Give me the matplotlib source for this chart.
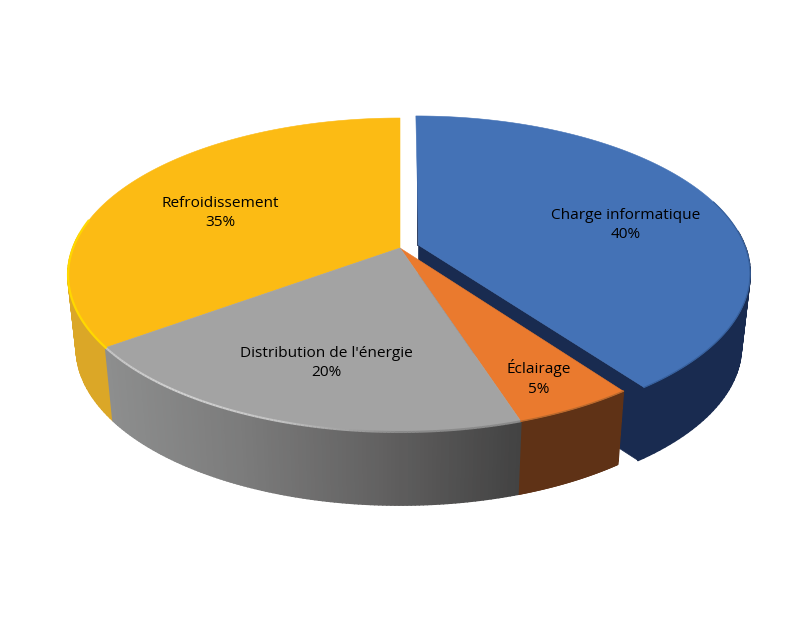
import numpy as np
import matplotlib
matplotlib.use('Agg')
import matplotlib.pyplot as plt
from matplotlib.collections import LineCollection, PolyCollection
from matplotlib.colors import LinearSegmentedColormap
from matplotlib.patches import Polygon

# Data
labels = ['Charge informatique', 'Éclairage', "Distribution de l'énergie", 'Refroidissement']
shares = [40, 5, 20, 35]
explode = [0.06, 0, 0, 0]
top_colors = ['#4472b6', '#ea7a2e', '#a3a3a3', '#fcbb14']
side_colors = ['#192b50', '#5f3216', '#6a6a6a', '#dba727']
label_xy = [(626, 225), (539, 378), (326, 363), (220, 213)]
# part of each outer arc whose wall can be seen (indices along the arc)
wall_range = [(70, 120), (0, 120), (0, 120), (0, 40)]

plt.rcParams['font.family'] = ['Open Sans', 'DejaVu Sans']

# Perspective of the pie disc, in pixels
cx, cy = 400, 248
radius = 327
tilt_y = 109.7
persp = 0.172
depth = 73
shrink = 0.975


def project(px, py):
    w = 1 + persp * py
    return cx + radius * px / w, (cy - tilt_y * py) / w


def lower(x, y):
    return cx + shrink * (x - cx), y + depth


fig = plt.figure(figsize=(8, 6.18), dpi=100)
ax = fig.add_axes([0, 0, 1, 1])

fracs = np.cumsum([0] + shares) / sum(shares) * 2 * np.pi
wedges = []
for i in range(len(shares)):
    th = np.linspace(fracs[i], fracs[i + 1], 120)
    mid = (fracs[i] + fracs[i + 1]) / 2
    dx, dy = explode[i] * np.sin(mid), explode[i] * np.cos(mid)
    ax_x, ax_y = project(dx, dy)
    arc_x, arc_y = project(np.sin(th) + dx, np.cos(th) + dy)
    wedges.append((ax_x, ax_y, arc_x, arc_y))

grey_cmap = LinearSegmentedColormap.from_list('side', ['#434343', '#626161', '#7b7b7b', '#8d8e8e'])
rim_cmap = LinearSegmentedColormap.from_list('rim', ['#8a8a8a', '#8a8a8a', '#c4c4c4', '#d2d2d2', '#c4c4c4'])

# Draw back to front: blue, then yellow, orange, grey
for i in [0, 3, 1, 2]:
    ax_x, ax_y, arc_x, arc_y = wedges[i]
    low_x, low_y = lower(arc_x, arc_y)

    if i == 0:
        # cut face of the pulled out slice
        a2x, a2y = lower(ax_x, ax_y)
        face = [(ax_x, ax_y), (arc_x[-1], arc_y[-1]), (low_x[-1], low_y[-1]), (a2x, a2y)]
        ax.add_patch(Polygon(face, fc=side_colors[i], ec=side_colors[i], lw=0.5))

    # side wall as small quads so the silhouette stays tangent
    k0, k1 = wall_range[i]
    quads = [[(arc_x[k], arc_y[k]), (arc_x[k + 1], arc_y[k + 1]),
              (low_x[k + 1], low_y[k + 1]), (low_x[k], low_y[k])] for k in range(k0, k1 - 1)]
    if i == 2:
        t = (arc_x[:-1] - arc_x.max()) / (arc_x.min() - arc_x.max())
        cols = grey_cmap(t)
    else:
        cols = side_colors[i]
    ax.add_collection(PolyCollection(quads, facecolors=cols, edgecolors=cols, linewidths=1.3, zorder=1))

    top = np.column_stack([np.r_[ax_x, arc_x], np.r_[ax_y, arc_y]])
    ax.add_patch(Polygon(top, fc=top_colors[i], ec=top_colors[i], lw=0.4, zorder=2))

# Thin dark sliver on the left edge of the blue slice
bx, by, bax, bay = wedges[0][0], wedges[0][1], wedges[0][2][0], wedges[0][3][0]
ax.plot([bx - 0.7, bx - 0.3 * (bx - bax)], [by, by - 0.7 * (by - bay)], color=side_colors[0], lw=1.1, zorder=1.5)

# Bevel highlights along the rim
gx, gy = wedges[2][2], wedges[2][3]
segs = [[(gx[k], gy[k]), (gx[k + 1], gy[k + 1])] for k in range(len(gx) - 1)]
rim = LineCollection(segs, colors=rim_cmap(np.linspace(0, 1, len(segs))), linewidths=1.5, zorder=3)
ax.add_collection(rim)
ax.plot(wedges[3][2][:45], wedges[3][3][:45], color='#ffd800', lw=1.6, zorder=3)
ax.plot(wedges[0][2][60:], wedges[0][3][60:], color='#37609c', lw=0.9, zorder=3)
ax.plot(wedges[1][2], wedges[1][3], color='#b9692d', lw=1.0, zorder=3)

# Labels
for name, share, (lx, ly) in zip(labels, shares, label_xy):
    ax.text(lx, ly, f'{name}\n{share}%', ha='center', va='center', fontsize=11.1,
            color='#000000', linespacing=1.45, zorder=4)

ax.set_xlim(0, 800)
ax.set_ylim(618, 0)
ax.axis('off')

fig.savefig('out.png', dpi=100)
